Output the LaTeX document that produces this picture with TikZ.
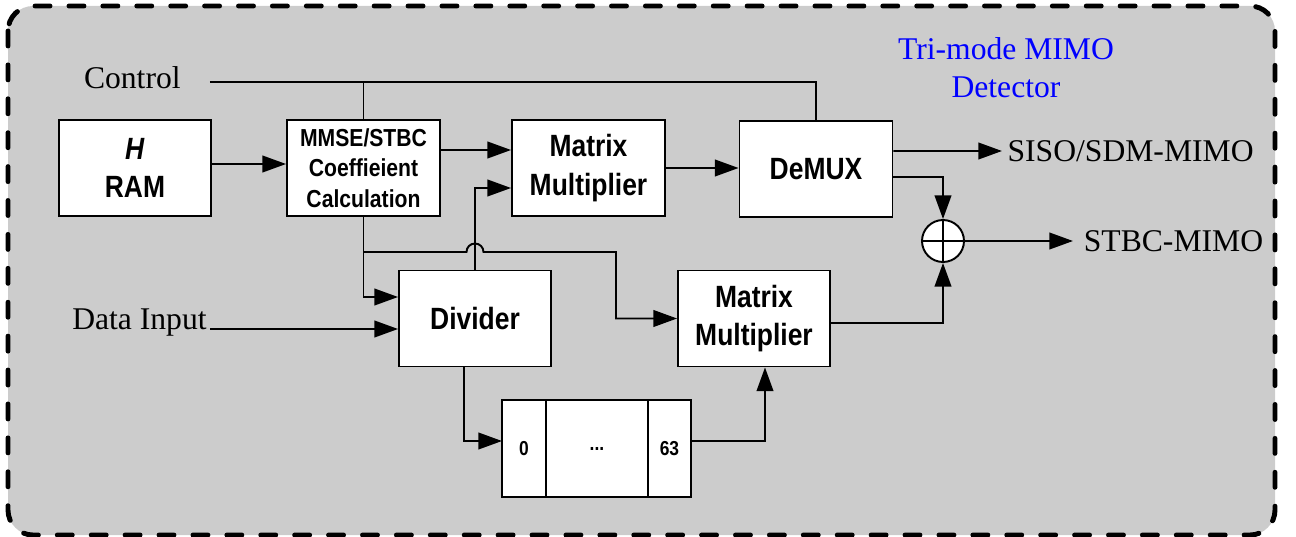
\documentclass[tikz,border=0pt]{standalone}
\usepackage{fontspec}
\setmainfont{Liberation Serif}
\newfontfamily\blockfont[FakeStretch=0.86]{Liberation Sans}
\usetikzlibrary{positioning,arrows.meta}
\definecolor{panelGray}{HTML}{CCCCCC}
\definecolor{titleBlue}{HTML}{0000FF}

\begin{document}
\begin{tikzpicture}[
    x=0.02cm, y=-0.02cm,
    every node/.style={inner sep=0pt},
    blk/.style={draw, line width=1.1pt, fill=white, minimum width=3.06cm, minimum height=1.92cm,
      align=center, font=\blockfont\bfseries\fontsize{17.5}{22}\selectfont},
    cell/.style={draw, line width=1.1pt, fill=white, minimum height=1.94cm, outer sep=0pt,
      font=\blockfont\bfseries\fontsize{11.5}{13}\selectfont},
    lbl/.style={font=\fontsize{18}{21.5}\selectfont},
    wire/.style={line width=1.1pt},
    arr/.style={wire, -{Triangle[length=13.5pt, width=9.5pt]}},
]
  % frame of the detector
  \useasboundingbox (0,0) rectangle (1296,537);
  \draw[line width=2.8pt, fill=panelGray, rounded corners=0.5cm,
        dash pattern=on 8.5pt off 10.8pt, line cap=round] (8,6) rectangle (1275,535);

  % blocks
  \node[blk, minimum width=3.04cm] (ram) at (135,168) {\textit{H}\\RAM};
  \node[blk, font=\blockfont\bfseries\fontsize{14}{17.5}\selectfont] (coef) at (363.5,168) {MMSE/STBC\\Coeffieient\\Calculation};
  \node[blk] (mmA) at (588.5,168) {Matrix\\Multiplier};
  \node[blk] (demux) at (816,169) {DeMUX};
  \node[blk, minimum width=3.04cm] (divider) at (475,318.5) {Divider};
  \node[blk, minimum width=3.04cm] (mmB) at (754,318.5) {Matrix\\Multiplier};

  % buffer 0 ... 63
  \node[cell, minimum width=0.88cm] (buf0) at (524,448.5) {0};
  \node[cell, minimum width=2.04cm, right=0pt of buf0] (bufDots) {...};
  \node[cell, minimum width=0.86cm, right=0pt of bufDots] (buf63) {63};

  % adder
  \node[circle, draw, line width=1.1pt, fill=white, minimum size=0.84cm] (sum) at (943,241) {};
  \draw[wire] (sum.north) -- (sum.south) (sum.west) -- (sum.east);

  % labels
  \node[lbl, anchor=base east] (ctrl) at (181,89) {Control};
  \node[lbl, anchor=base east] (din) at (207,329) {Data Input};
  \node[lbl, anchor=west, inner xsep=3pt] (siso) at (1002,151) {SISO/SDM-MIMO};
  \node[lbl, anchor=west, inner xsep=6pt] (stbc) at (1073,241) {STBC-MIMO};
  \node[lbl, text=titleBlue, align=center] (title) at (1006,68) {Tri-mode MIMO\\Detector};

  % control line
  \coordinate (ctrlLine) at ([xshift=0.58cm, yshift=-0.08cm]ctrl.east);
  \draw[wire] (ctrlLine) -| (demux.north);
  \draw[wire] (coef.north) -- (coef.north |- ctrlLine);

  % data path
  \draw[arr] ([yshift=0.08cm]ram.east) -- ([yshift=0.08cm]coef.west);
  \draw[arr] ([yshift=0.36cm]coef.east) -- ([yshift=0.36cm]mmA.west);
  \draw[arr] (mmA.east) -- (mmA.east -| demux.west);
  \draw[arr] (divider.north) |- ([yshift=-0.4cm]mmA.west);
  \draw[arr] (coef.south) |- ([yshift=0.43cm]divider.west);
  \coordinate (hop) at (divider.north |- 0,252);
  \coordinate (tap) at (616,252);
  \draw[arr] (coef.south |- hop) -- ([xshift=-0.17cm]hop) arc[start angle=180, end angle=0, radius=0.17cm]
    -- (tap) |- (mmB.west);
  \draw[arr] ([xshift=0.06cm]din.base east) -- (din.base east -| divider.west);
  \draw[arr] ([xshift=-0.22cm]divider.south) |- ([yshift=0.15cm]buf0.west);
  \draw[arr] ([yshift=0.15cm]buf63.east) -| ([xshift=0.22cm]mmB.south);
  \draw[arr] ([yshift=-0.09cm]mmB.east) -| (sum.south);
  \draw[arr] ([yshift=0.36cm]demux.east) -- (siso.west);
  \draw[arr] ([yshift=-0.16cm]demux.east) -| (sum.north);
  \draw[arr] (sum.east) -- (stbc.west);
\end{tikzpicture}
\end{document}
